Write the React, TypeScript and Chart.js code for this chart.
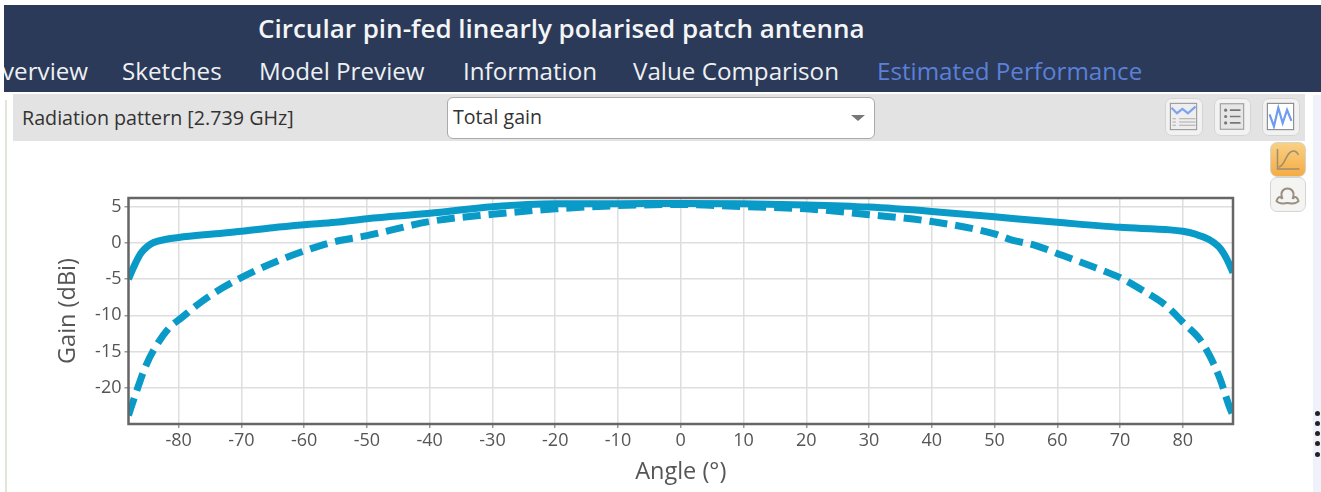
import React, { useEffect, useRef } from "react";
import { Chart, registerables } from "chart.js";

Chart.register(...registerables);

const title = "Circular pin-fed linearly polarised patch antenna";
const tabs = [
  { label: "verview", x: 2 },
  { label: "Sketches", x: 122 },
  { label: "Model Preview", x: 259 },
  { label: "Information", x: 463 },
  { label: "Value Comparison", x: 633 },
  { label: "Estimated Performance", x: 877 },
];

const solidAngles = [-88, -87, -86, -85, -84, -82, -80, -75, -70, -65, -60, -55, -50, -40, -30, -20, -10, 0, 10, 20, 30, 40, 50, 60, 70, 78, 80, 82, 84, 86, 87, 88];
const solidGain = [-5, -3, -1.4, -0.5, 0.05, 0.5, 0.75, 1.2, 1.6, 2.1, 2.5, 2.85, 3.35, 4.1, 5.0, 5.4, 5.4, 5.45, 5.4, 5.25, 4.95, 4.35, 3.6, 2.85, 2.15, 1.8, 1.6, 1.2, 0.55, -0.8, -2.2, -4.1];

const dashedAngles = [-88, -87, -85.4, -84, -81.6, -79.5, -76.8, -72.8, -67.7, -64, -59.8, -55.6, -50, -40, -30, -20, -10, 0, 10, 20, 30, 40, 50, 52.4, 56.7, 60.9, 66, 70, 73.7, 77.4, 80.3, 82.7, 84.3, 85.9, 87.5, 88];
const dashedGain = [-23.8, -21.2, -17.3, -14.8, -11.8, -10.3, -8.4, -6.1, -3.8, -2.4, -1.05, 0.08, 1.0, 2.95, 3.95, 4.7, 5.15, 5.3, 5.0, 4.7, 3.9, 2.95, 1.25, 0.5, -0.4, -1.75, -3.4, -4.8, -6.6, -8.7, -11.2, -13.3, -15.6, -18.7, -22.8, -23.8];

const FONT = '"Open Sans", "Noto Sans", sans-serif';
const LINE = "#0a9ac8";

const toPoints = (xs: number[], ys: number[]) => xs.map((x, i) => ({ x, y: ys[i] }));

const frame = {
  id: "frame",
  afterDraw(chart: any) {
    const { ctx, chartArea: a } = chart;
    ctx.save();
    ctx.strokeStyle = "#666666";
    ctx.lineWidth = 2.5;
    ctx.strokeRect(a.left, a.top, a.right - a.left, a.bottom - a.top);
    ctx.restore();
  },
};

const abs = (left: number, top: number, width: number, height: number): React.CSSProperties => ({
  position: "absolute", left, top, width, height,
});

function IconButton({ x, y, w, h, bg, children }: any) {
  return (
    <div style={{ ...abs(x, y, w, h), boxSizing: "border-box", background: bg, border: "1.5px solid #d5d5d0", borderRadius: 7 }}>
      <svg width={w - 3} height={h - 3} viewBox="0 0 32 32" style={{ display: "block" }}>{children}</svg>
    </div>
  );
}

export default function App() {
  const ref = useRef<HTMLCanvasElement>(null);
  useEffect(() => {
    const chart = new Chart(ref.current!, {
      type: "line",
      data: {
        datasets: [
          { label: "Solid", data: toPoints(solidAngles, solidGain), borderColor: LINE, borderWidth: 7, pointRadius: 0, cubicInterpolationMode: "monotone" },
          { label: "Dashed", data: toPoints(dashedAngles, dashedGain), borderColor: LINE, borderWidth: 7, borderDash: [18, 8], pointRadius: 0, cubicInterpolationMode: "monotone" },
        ],
      },
      options: {
        responsive: false,
        animation: false,
        layout: { padding: { left: 54, right: 88, top: 198, bottom: 6 } },
        plugins: { legend: { display: false }, tooltip: { enabled: false } },
        scales: {
          x: {
            type: "linear",
            min: -88,
            max: 88,
            afterBuildTicks: (s: any) => { s.ticks = s.ticks.filter((t: any) => t.value % 10 === 0); },
            afterFit: (s: any) => { s.height = 62; },
            ticks: { stepSize: 10, includeBounds: false, color: "#555555", font: { family: FONT, size: 18 }, maxRotation: 0, padding: 2 },
            grid: { color: "#dedede", lineWidth: 1.5, tickLength: 4, tickColor: "#999999" },
            border: { display: false },
            title: { display: true, text: "Angle (°)", color: "#555555", font: { family: FONT, size: 23.5 }, padding: { top: 0, bottom: 0 } },
          },
          y: {
            min: -25,
            max: 6.2,
            afterBuildTicks: (s: any) => { s.ticks = s.ticks.filter((t: any) => t.value % 5 === 0 && t.value > -25); },
            afterFit: (s: any) => { s.width = 74.5; },
            ticks: { stepSize: 5, includeBounds: false, color: "#555555", font: { family: FONT, size: 18 }, padding: 3 },
            grid: { color: "#dedede", lineWidth: 1.5, tickLength: 4, tickColor: "#999999" },
            border: { display: false },
            title: { display: true, text: "Gain (dBi)", color: "#555555", font: { family: FONT, size: 23.5 }, padding: { top: 0, bottom: 4 } },
          },
        },
      },
      plugins: [frame],
    } as any);
    return () => chart.destroy();
  }, []);

  return (
    <div style={{ ...abs(0, 0, 1321, 492), background: "#fff", overflow: "hidden", fontFamily: FONT, filter: "blur(0.5px)" }}>
      <div style={{ ...abs(4, 5, 1317, 87), background: "#2a3a58" }} />
      <div style={{ ...abs(258, 10, 700, 36), color: "#f4f5f7", fontSize: 26, fontWeight: 600, lineHeight: "36px", whiteSpace: "nowrap" }}>{title}</div>
      <div style={{ ...abs(4, 54, 1317, 34), overflow: "hidden" }}>
        {tabs.map((t, i) => (
          <div key={t.label} style={{ ...abs(t.x - 4, 0, 320, 34), color: i === tabs.length - 1 ? "#5b80d8" : "#eef0f3", fontSize: 24.2, lineHeight: "34px", whiteSpace: "nowrap" }}>{t.label}</div>
        ))}
      </div>
      <div style={{ ...abs(5, 100, 2, 392), background: "#dfe8d8" }} />
      <div style={{ ...abs(13, 94, 1292, 47), background: "#e3e3e3" }} />
      <div style={{ ...abs(1313, 95, 8, 397), background: "#eff1fb" }} />
      <div style={{ ...abs(22, 103, 320, 30), color: "#333", fontSize: 19.7, lineHeight: "30px", whiteSpace: "nowrap" }}>Radiation pattern [2.739 GHz]</div>
      <div style={{ ...abs(447, 97, 428, 42), boxSizing: "border-box", background: "#fff", border: "1.5px solid #aaa", borderRadius: 6 }} />
      <div style={{ ...abs(453, 102, 200, 30), color: "#333", fontSize: 19.6, lineHeight: "30px" }}>Total gain</div>
      <div style={{ ...abs(851, 115, 0, 0), borderLeft: "7px solid transparent", borderRight: "7px solid transparent", borderTop: "6px solid #777" }} />

      <canvas ref={ref} width={1321} height={492} style={{ ...abs(0, 0, 1321, 492), display: "block" }} />

      <IconButton x={1165} y={98} w={38} h={38} bg="#f2f2f2">
        <rect x="4" y="4" width="24" height="24" fill="#eee" stroke="#999" />
        <path d="M5 8 L10 13 L15 9 L20 13 L27 7" fill="none" stroke="#7fa3ee" strokeWidth="2" />
        <path d="M12 18 H27 M12 21 H27 M12 24 H27 M6 18 H9 M6 21 H9 M6 24 H9" stroke="#aaa" />
      </IconButton>
      <IconButton x={1214} y={98} w={37} h={38} bg="#f2f2f2">
        <rect x="5" y="4" width="22" height="24" fill="#e6e6e6" stroke="#999" />
        <path d="M14 10 H24 M14 16 H24 M14 22 H24" stroke="#777" strokeWidth="1.5" />
        <circle cx="10" cy="10" r="1.5" fill="#777" /><circle cx="10" cy="16" r="1.5" fill="#777" /><circle cx="10" cy="22" r="1.5" fill="#777" />
      </IconButton>
      <IconButton x={1262} y={98} w={38} h={38} bg="#f2f2f2">
        <rect x="4" y="4" width="24" height="24" fill="#fff" stroke="#888" />
        <path d="M6 14 L10 25 L14 8 L18 22 L22 10 L26 20" fill="none" stroke="#6f9bf0" strokeWidth="2" />
      </IconButton>
      <IconButton x={1270} y={142} w={36} h={35} bg="linear-gradient(#f9d184,#f6ab44)">
        <path d="M6 6 V26 H28" fill="none" stroke="#9a8f70" strokeWidth="1.5" />
        <path d="M7 24 C14 24 14 8 22 8 C25 8 26 10 27 12" fill="none" stroke="#9a8f70" strokeWidth="1.5" />
      </IconButton>
      <IconButton x={1270} y={177} w={36} h={35} bg="#f4f4f2">
        <path d="M11 21 C5 7 27 7 21 21 M11 21 C8 17 6 20 5 23 C8 27 13 25 16 25 C19 25 24 27 27 23 C26 20 24 17 21 21" fill="none" stroke="#998f80" strokeWidth="2" />
      </IconButton>

      {[411, 421, 431, 441, 452].map((y) => (
        <div key={y} style={{ ...abs(1315, y, 5, 5), background: "#222", borderRadius: "50%" }} />
      ))}
    </div>
  );
}
